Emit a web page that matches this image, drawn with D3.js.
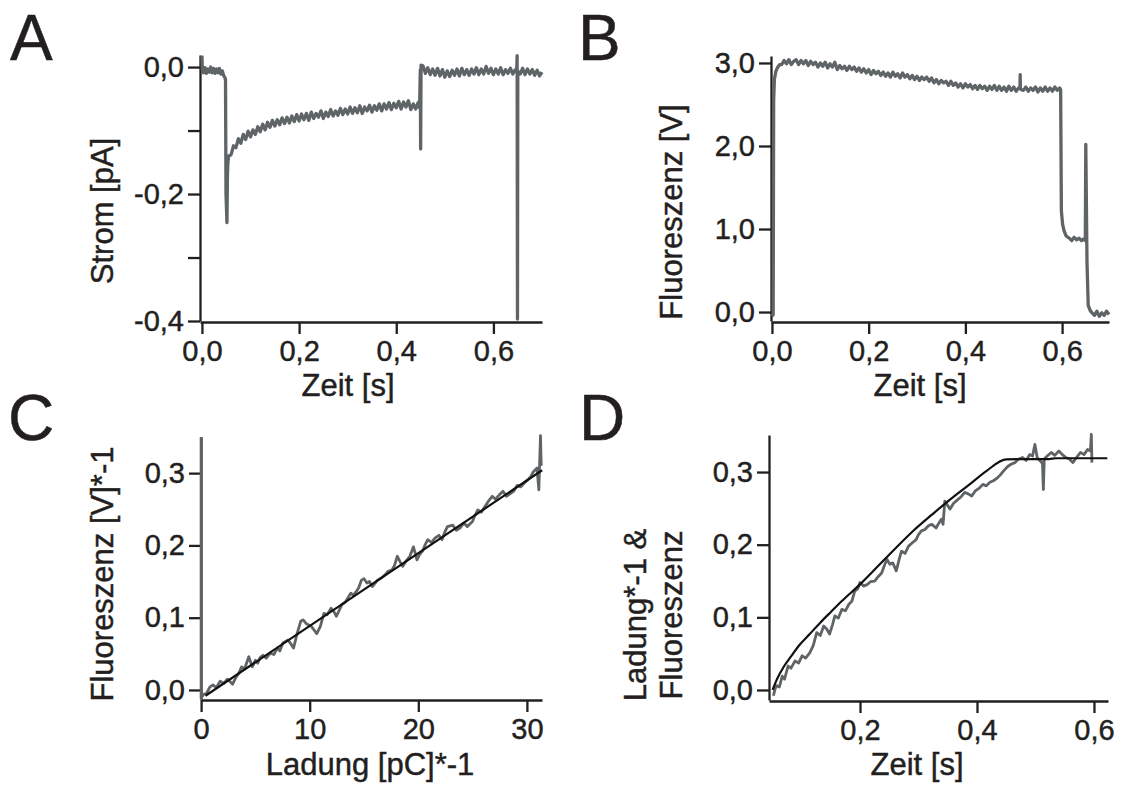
<!DOCTYPE html>
<html><head><meta charset="utf-8">
<script src="https://cdn.jsdelivr.net/npm/d3@7"></script>
<style>
body{margin:0;background:#fff;}
svg{display:block;}
text{font-family:"Liberation Sans",Arial,Helvetica,sans-serif;fill:#231f20;stroke:#231f20;stroke-width:0.45px;}
</style></head><body>
<svg id="chart" width="1127" height="785"></svg>
<script>
// ---------- Panel A: Strom [pA] vs Zeit [s] ----------
const aEvents = [[0,0.018],[0.0008,-0.004],[0.047,-0.016],[0.0485,-0.02],[0.0495,-0.20],[0.0515,-0.245],[0.0525,-0.17],[0.0535,-0.15],
  [0.448,-0.064],[0.4495,-0.004],[0.4502,-0.129],[0.451,0.003],[0.648,-0.004],[0.6488,0.018],[0.6495,-0.397],[0.6502,-0.006]];
const aNoise1Start = 0.003, aNoise1Step = 0.003;
const aNoise1 = [-0.009,-0.001,-0.010,-0.003,-0.008,0.000,-0.009,-0.002,-0.010,-0.003,-0.009,-0.002,-0.011,-0.006,-0.014];
const aNoise2Start = 0.055, aNoise2Step = 0.005;
const aNoise2 = [-0.140,-0.138,-0.124,-0.127,-0.113,-0.120,-0.106,-0.114,-0.101,-0.110,
  -0.099,-0.106,-0.094,-0.102,-0.090,-0.099,-0.087,-0.095,-0.084,-0.093,
  -0.083,-0.091,-0.080,-0.089,-0.079,-0.088,-0.077,-0.086,-0.075,-0.085,
  -0.074,-0.083,-0.073,-0.084,-0.071,-0.081,-0.073,-0.079,-0.069,-0.081,
  -0.071,-0.078,-0.067,-0.077,-0.069,-0.076,-0.065,-0.075,-0.066,-0.074,
  -0.063,-0.073,-0.064,-0.072,-0.061,-0.073,-0.063,-0.069,-0.060,-0.071,
  -0.061,-0.068,-0.058,-0.069,-0.058,-0.066,-0.056,-0.067,-0.057,-0.064,
  -0.054,-0.066,-0.055,-0.063,-0.053,-0.067,-0.058,-0.066,-0.056];
const aNoise3Start = 0.455, aNoise3Step = 0.005;
const aNoise3 = [0.002,-0.010,-0.001,-0.012,-0.003,-0.013,-0.002,-0.014,-0.004,-0.016,
  -0.006,-0.015,-0.005,-0.013,-0.003,-0.014,-0.002,-0.012,-0.004,-0.013,
  -0.003,-0.011,-0.001,-0.012,-0.003,-0.011,0.001,-0.010,-0.002,-0.012,
  -0.003,-0.011,-0.001,-0.012,-0.004,-0.010,-0.002,-0.011,-0.004];
const aNoise4Start = 0.655, aNoise4Step = 0.005;
const aNoise4 = [-0.011,-0.002,-0.012,-0.003,-0.011,-0.004,-0.013,-0.005,-0.014,-0.008];
const aXTicks = [0,0.2,0.4,0.6];
const aYTicks = [0,-0.1,-0.2,-0.3,-0.4];
const aYLabelled = [0,-0.2,-0.4];

// ---------- Panel B: Fluoreszenz [V] vs Zeit [s] ----------
const bEvents = [[0,-0.05],[0.0025,-0.03],[0.0035,2.55],[0.005,2.80],[0.008,2.90],[0.012,2.95],[0.016,2.98],
  [0.5128,2.69],[0.5133,2.86],[0.5138,2.69],
  [0.597,2.68],[0.5985,1.22],[0.601,1.06],[0.604,0.98],[0.608,0.92],[0.612,0.90],
  [0.648,0.86],[0.649,2.02],[0.6515,0.6],[0.654,0.08],[0.658,0.02]];
const bNoise1Start = 0.02, bNoise1Step = 0.005;
const bNoise1 = [2.98,3.03,2.99,3.04,2.98,3.02,3.04,2.98,3.03,2.99,
  3.03,2.97,3.02,2.98,3.01,2.95,3.00,2.96,3.01,2.94,
  2.99,2.95,3.01,2.92,2.97,2.93,2.96,2.91,2.96,2.92,
  2.95,2.90,2.94,2.89,2.93,2.88,2.92,2.86,2.91,2.87,
  2.90,2.85,2.89,2.84,2.88,2.83,2.89,2.84,2.87,2.82,
  2.88,2.83,2.86,2.81,2.85,2.80,2.84,2.79,2.83,2.80,
  2.83,2.78,2.82,2.76,2.80,2.75,2.79,2.76,2.78,2.73,
  2.78,2.73,2.76,2.71,2.75,2.70,2.75,2.71,2.74,2.69,
  2.73,2.68,2.73,2.69,2.72,2.67,2.72,2.68,2.73,2.67,
  2.72,2.67,2.71,2.66,2.72,2.67,2.71,2.66,2.70,2.68,
  2.67,2.71,2.66,2.70,2.67,2.71,2.65,2.70,2.66,2.71,
  2.66,2.70,2.66,2.71,2.67,2.70];
const bNoise2Start = 0.615, bNoise2Step = 0.005;
const bNoise2 = [0.89,0.86,0.90,0.87,0.89,0.86,0.88];
const bNoise3Start = 0.662, bNoise3Step = 0.005;
const bNoise3 = [-0.01,-0.04,0.01,-0.05,-0.01,-0.04,0.01,-0.03];
const bXTicks = [0,0.2,0.4,0.6];
const bYTicks = [0,1,2,3];

// ---------- Panel C: Fluoreszenz [V]*-1 vs Ladung [pC]*-1 ----------
const cTrace = [[0,0.350],[0,-0.012],[0.2,-0.006],[0.49,-0.005],[0.8,0.004],[1.09,0.007],[1.4,0.003],[1.75,0.012],[2.1,0.009],[2.41,0.015],
  [2.7,0.011],[2.9,0.008],[3.23,0.018],[3.5,0.024],[3.73,0.032],[4.0,0.029],[4.39,0.046],[4.71,0.032],[5.0,0.041],[5.21,0.037],
  [5.45,0.045],[5.70,0.048],[6.0,0.044],[6.36,0.051],[6.7,0.049],[7.02,0.058],[7.25,0.054],[7.52,0.065],[8.01,0.069],[8.3,0.063],
  [8.51,0.058],[8.84,0.078],[9.17,0.095],[9.4,0.097],[9.66,0.092],[10.15,0.088],[10.4,0.083],[10.65,0.078],[10.98,0.088],[11.31,0.106],
  [11.6,0.104],[11.97,0.113],[12.2,0.109],[12.46,0.102],[12.96,0.118],[13.3,0.122],[13.78,0.134],[14.0,0.131],[14.28,0.136],[14.5,0.141],
  [14.77,0.152],[15.0,0.154],[15.27,0.148],[15.5,0.150],[15.76,0.143],[16.25,0.152],[16.6,0.155],[16.91,0.159],[17.2,0.164],[17.57,0.166],
  [17.8,0.172],[18.07,0.185],[18.3,0.178],[18.56,0.171],[18.9,0.179],[19.22,0.185],[19.55,0.198],[19.7,0.190],[19.88,0.180],[20.1,0.187],
  [20.38,0.192],[20.6,0.200],[20.87,0.208],[21.2,0.204],[21.53,0.210],[21.9,0.214],[22.19,0.208],[22.4,0.217],[22.68,0.226],[23.18,0.228],
  [23.5,0.221],[23.84,0.224],[24.2,0.231],[24.50,0.226],[24.99,0.233],[25.2,0.241],[25.48,0.249],[25.8,0.246],[26.15,0.254],[26.5,0.262],
  [26.81,0.268],[27.1,0.264],[27.46,0.270],[27.8,0.275],[28.12,0.268],[28.5,0.272],[28.78,0.275],[29.1,0.283],[29.44,0.281],[29.8,0.287],
  [30.10,0.291],[30.35,0.295],[30.60,0.302],[30.93,0.307],[31.1,0.277],[31.25,0.352],[31.32,0.310]];
const cFit = [[0.4,-0.008],[31.4,0.304]];
const cXTicks = [0,10,20,30];
const cYTicks = [0,0.1,0.2,0.3];

// ---------- Panel D: Ladung*-1 & Fluoreszenz vs Zeit [s] ----------
const dTrace = [[0.052,-0.008],[0.055,0.002],[0.058,0.006],[0.062,0.004],[0.067,0.019],[0.071,0.015],[0.077,0.033],[0.082,0.030],[0.089,0.040],[0.095,0.037],
  [0.101,0.047],[0.107,0.044],[0.114,0.051],[0.120,0.061],[0.126,0.079],[0.132,0.075],[0.138,0.088],[0.143,0.084],[0.148,0.077],[0.153,0.090],
  [0.157,0.102],[0.163,0.099],[0.169,0.111],[0.175,0.109],[0.181,0.118],[0.186,0.122],[0.191,0.136],[0.196,0.139],[0.200,0.148],[0.206,0.143],
  [0.212,0.145],[0.218,0.149],[0.225,0.150],[0.231,0.156],[0.237,0.161],[0.242,0.172],[0.246,0.180],[0.251,0.173],[0.256,0.175],[0.262,0.164],
  [0.267,0.180],[0.271,0.191],[0.277,0.188],[0.283,0.198],[0.290,0.203],[0.296,0.207],[0.300,0.214],[0.305,0.219],[0.311,0.221],[0.317,0.226],
  [0.323,0.228],[0.330,0.223],[0.335,0.230],[0.339,0.235],[0.342,0.228],[0.345,0.260],[0.349,0.255],[0.354,0.249],[0.360,0.257],[0.367,0.262],
  [0.373,0.266],[0.379,0.272],[0.385,0.270],[0.391,0.267],[0.397,0.274],[0.404,0.278],[0.410,0.283],[0.416,0.281],[0.422,0.286],[0.428,0.288],
  [0.435,0.292],[0.441,0.297],[0.447,0.303],[0.453,0.308],[0.459,0.311],[0.465,0.313],[0.471,0.318],[0.478,0.320],[0.484,0.316],[0.490,0.324],
  [0.495,0.322],[0.499,0.338],[0.503,0.320],[0.506,0.317],[0.510,0.314],[0.512,0.311],[0.5135,0.276],[0.515,0.318],[0.520,0.322],[0.527,0.327],
  [0.533,0.323],[0.540,0.329],[0.546,0.324],[0.552,0.320],[0.558,0.318],[0.564,0.313],[0.570,0.320],[0.577,0.327],[0.583,0.324],[0.589,0.331],
  [0.594,0.329],[0.5955,0.352],[0.5965,0.313]];
const dFit = [[0.0506,0],[0.058,0.0147],[0.0704,0.033],[0.0827,0.0468],[0.0951,0.0606],[0.1136,0.0766],[0.132,0.0927],[0.1506,0.1078],
  [0.169,0.1225],[0.2,0.1454],[0.2309,0.1706],[0.2617,0.1959],[0.2926,0.2202],[0.3235,0.2417],[0.3543,0.2624],[0.3852,0.2817],
  [0.416,0.3014],[0.45,0.3174],[0.5,0.3178],[0.5228,0.3178],[0.535,0.319],[0.6228,0.319]];
const dXTicks = [0.2,0.4,0.6];
const dYTicks = [0,0.1,0.2,0.3];

// ---------- Texts ----------
const panelLetters = ["A","B","C","D"];
const xTitles = ["Zeit [s]","Zeit [s]","Ladung [pC]*-1","Zeit [s]"];
const yTitles = [["Strom [pA]"],["Fluoreszenz [V]"],["Fluoreszenz [V]*-1"],["Ladung*-1 &","Fluoreszenz"]];

// ---------- helpers ----------
function series(events, segs){
  const pts = events.slice();
  segs.forEach(([t0, dt, vals]) => vals.forEach((v,i) => pts.push([t0 + i*dt, v])));
  return pts.sort((a,b)=>a[0]-b[0]);
}
const comma = f => (d => f(d).replace(".", ",").replace("\u2212","-"));
const INK = "#231f20", GRAY = "#5f6467";
const svg = d3.select("#chart");

function panel(o){
  const g = svg.append("g");
  const xa = g.append("g").attr("transform",`translate(0,${o.xAxisY})`)
    .call(d3.axisBottom(o.x).tickValues(o.xTicks).tickFormat(o.xFmt).tickSize(12).tickSizeOuter(0).tickPadding(6));
  const ya = g.append("g").attr("transform",`translate(${o.yAxisX},0)`)
    .call(d3.axisLeft(o.y).tickValues(o.yTicks).tickFormat(o.yFmt).tickSize(12).tickSizeOuter(0).tickPadding(4));
  [xa,ya].forEach(a=>{
    a.select(".domain").attr("stroke",INK).attr("stroke-width",2.3);
    a.selectAll(".tick line").attr("stroke",INK).attr("stroke-width",2.3);
    a.selectAll(".tick text").attr("font-size",29).attr("fill",INK)
      .attr("font-family",'"Liberation Sans",Arial,sans-serif');
  });
  o.traces.forEach(tr => {
    const line = d3.line().x(d=>o.x(d[0])).y(d=>o.y(d[1])).curve(tr.smooth ? d3.curveMonotoneX : d3.curveLinear);
    g.append("path").datum(tr.data).attr("d",line)
      .attr("fill","none").attr("stroke",tr.color).attr("stroke-width",tr.width)
      .attr("stroke-linejoin","round");
  });
  g.append("text").text(o.letter).attr("x",o.letterX).attr("y",o.letterY).attr("font-size",64);
  g.append("text").text(o.xTitle).attr("x",o.xTitleX).attr("y",o.xTitleY)
    .attr("text-anchor","middle").attr("font-size",31);
  o.yTitle.forEach((t,i)=>{
    g.append("text").text(t).attr("text-anchor","middle").attr("font-size",31)
      .attr("transform",`translate(${o.yTitleX[i]},${o.yTitleY}) rotate(-90)`);
  });
}

// Panel A
const xA = d3.scaleLinear().domain([-0.004,0.7]).range([200,542]);
const yA = d3.scaleLinear().domain([-0.4,0.019]).range([321,55]);
panel({x:xA,y:yA,xAxisY:322,yAxisX:200,xTicks:aXTicks,yTicks:aYTicks,
  xFmt:comma(d3.format(".1f")), yFmt:d=>aYLabelled.includes(d)?comma(d3.format(".1f"))(d):"",
  traces:[{data:series(aEvents,[[aNoise1Start,aNoise1Step,aNoise1],[aNoise2Start,aNoise2Step,aNoise2],[aNoise3Start,aNoise3Step,aNoise3],[aNoise4Start,aNoise4Step,aNoise4]]),color:GRAY,width:3.3}],
  letter:panelLetters[0],letterX:10,letterY:60,xTitle:xTitles[0],xTitleX:348,xTitleY:396,
  yTitle:yTitles[0],yTitleX:[113],yTitleY:211});

// Panel B
const xB = d3.scaleLinear().domain([-0.002,0.697]).range([771,1109]);
const yB = d3.scaleLinear().domain([-0.108,3.084]).range([321,56]);
panel({x:xB,y:yB,xAxisY:322,yAxisX:771,xTicks:bXTicks,yTicks:bYTicks,
  xFmt:comma(d3.format(".1f")), yFmt:comma(d3.format(".1f")),
  traces:[{data:series(bEvents,[[bNoise1Start,bNoise1Step,bNoise1],[bNoise2Start,bNoise2Step,bNoise2],[bNoise3Start,bNoise3Step,bNoise3]]),color:GRAY,width:3.3}],
  letter:panelLetters[1],letterX:578,letterY:60,xTitle:xTitles[1],xTitleX:920,xTitleY:396,
  yTitle:yTitles[1],yTitleX:[682],yTitleY:212});

// Panel C
const xC = d3.scaleLinear().domain([-0.01,31.39]).range([201,542]);
const yC = d3.scaleLinear().domain([-0.0125,0.35]).range([699,437]);
panel({x:xC,y:yC,xAxisY:700,yAxisX:201,xTicks:cXTicks,yTicks:cYTicks,
  xFmt:d3.format("d"), yFmt:comma(d3.format(".1f")),
  traces:[{data:cTrace,color:GRAY,width:2.8},{data:cFit,color:"#111",width:2.2}],
  letter:panelLetters[2],letterX:8,letterY:440,xTitle:xTitles[2],xTitleX:370,xTitleY:775,
  yTitle:yTitles[2],yTitleX:[113],yTitleY:574});

// Panel D
const xD = d3.scaleLinear().domain([0.0444,0.624]).range([769,1108]);
const yD = d3.scaleLinear().domain([-0.0138,0.351]).range([700,435]);
panel({x:xD,y:yD,xAxisY:701,yAxisX:769,xTicks:dXTicks,yTicks:dYTicks,
  xFmt:comma(d3.format(".1f")), yFmt:comma(d3.format(".1f")),
  traces:[{data:dTrace,color:GRAY,width:2.8},{data:dFit,color:"#111",width:2.2,smooth:true}],
  letter:panelLetters[3],letterX:579,letterY:440,xTitle:xTitles[3],xTitleX:917,xTitleY:775,
  yTitle:yTitles[3],yTitleX:[646,682],yTitleY:615});
</script></body></html>
